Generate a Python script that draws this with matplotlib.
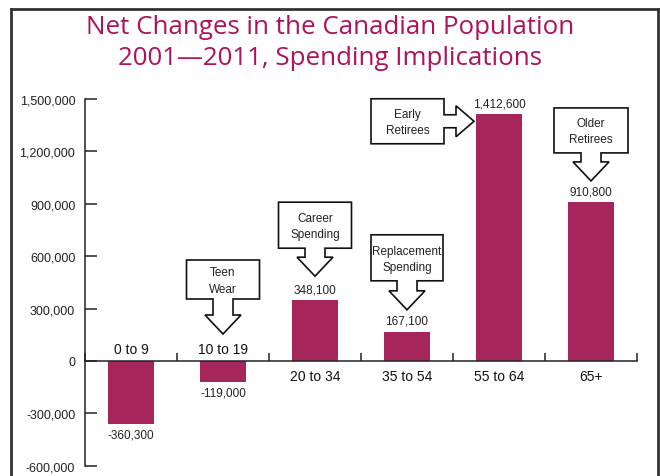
import matplotlib
matplotlib.use("Agg")
import matplotlib.pyplot as plt
from matplotlib.patches import Polygon
from matplotlib.lines import Line2D
from matplotlib.transforms import Affine2D, ScaledTranslation

categories = ["0 to 9", "10 to 19", "20 to 34", "35 to 54", "55 to 64", "65+"]
values = [-360300, -119000, 348100, 167100, 1412600, 910800]
yticks = [-600000, -300000, 0, 300000, 600000, 900000, 1200000, 1500000]
callout_texts = ["", "Teen\nWear", "Career\nSpending", "Replacement\nSpending", "Early\nRetirees", "Older\nRetirees"]

BAR = "#A6265C"
TITLE_C = "#AE1259"
FONT = "Liberation Sans"

fig = plt.figure(figsize=(6.6, 4.77), dpi=100)
W, H = 660, 477
ax = fig.add_axes([85 / W, 1 - 466.8 / H, 552 / W, 366.8 / H])

xs = [i + 0.5 for i in range(len(categories))]
ax.bar(xs, values, width=0.5, color=BAR, zorder=2)

ax.set_xlim(0, 6)
ax.set_ylim(-600000, 1500000)
ax.set_yticks(yticks)
ax.set_yticklabels([f"{v:,}" for v in yticks], fontsize=9, family=FONT, color="#222222")
ax.set_xticks(range(0, 7))
ax.set_xticklabels([])
ax.tick_params(axis="y", direction="in", length=8.6, width=1.1, pad=7, color="#222222")
ax.tick_params(axis="x", direction="in", length=5.8, width=1.1, color="#222222")
for s in ["top", "right"]:
    ax.spines[s].set_visible(False)
ax.spines["bottom"].set_position(("data", 0))
for s in ["left", "bottom"]:
    ax.spines[s].set_linewidth(1.1)
    ax.spines[s].set_color("#222222")
ax.patch.set_visible(False)

for x, v, c in zip(xs, values, categories):
    if v < 0:
        ax.annotate(c, (x, 0), xytext=(0, 8.6), textcoords="offset points",
                    ha="center", va="center", fontsize=10, family=FONT, color="#111111")
        ax.annotate(f"{v:,}", (x, v), xytext=(0, -7.4), textcoords="offset points",
                    ha="center", va="center", fontsize=8.5, family=FONT, color="#222222")
    else:
        ax.annotate(c, (x, 0), xytext=(0, -10.8), textcoords="offset points",
                    ha="center", va="center", fontsize=10, family=FONT, color="#111111")
        ax.annotate(f"{v:,}", (x, v), xytext=(0, 7.8), textcoords="offset points",
                    ha="center", va="center", fontsize=8.5, family=FONT, color="#222222")


def down_callout(x, y, dy, text, w, h, sl, sw=10, hw=18, hh=19):
    verts = [(0, 0), (hw, hh), (sw, hh), (sw, hh + sl), (w / 2, hh + sl),
             (w / 2, hh + sl + h), (-w / 2, hh + sl + h), (-w / 2, hh + sl),
             (-sw, hh + sl), (-sw, hh), (-hw, hh)]
    tr = Affine2D().translate(0, dy) + ScaledTranslation(x, y, ax.transData)
    p = Polygon(verts, closed=True, facecolor="white", edgecolor="#111111",
                linewidth=1.2, transform=tr, clip_on=False, zorder=3)
    ax.add_patch(p)
    ax.text(0, hh + sl + h / 2 - 1, text, transform=tr, ha="center", va="center",
            fontsize=8.5, family=FONT, color="#222222", linespacing=1.45, zorder=4)


def right_callout(x, y, dx, dy, text, w, h, sl, sw=6.5, hw=15.5, hh=18):
    verts = [(0, 0), (-hh, hw), (-hh, sw), (-hh - sl, sw), (-hh - sl, h / 2),
             (-hh - sl - w, h / 2), (-hh - sl - w, -h / 2), (-hh - sl, -h / 2),
             (-hh - sl, -sw), (-hh, -sw), (-hh, -hw)]
    tr = Affine2D().translate(dx, dy) + ScaledTranslation(x, y, ax.transData)
    p = Polygon(verts, closed=True, facecolor="white", edgecolor="#111111",
                linewidth=1.2, transform=tr, clip_on=False, zorder=3)
    ax.add_patch(p)
    ax.text(-hh - sl - w / 2, -1, text, transform=tr, ha="center", va="center",
            fontsize=8.5, family=FONT, color="#222222", linespacing=1.45, zorder=4)


down_callout(xs[1], max(values[1], 0), 27, callout_texts[1], 73, 39, 16)
down_callout(xs[2], values[2], 24, callout_texts[2], 73, 46, 9)
down_callout(xs[3], values[3], 22, callout_texts[3], 72, 46, 10)
right_callout(xs[4] - 0.25, values[4], -2, -7, callout_texts[4], 73, 45, 12)
down_callout(xs[5], values[5], 21, callout_texts[5], 74, 45, 9)

fig.text(0.5, 1 - 43 / H, "Net Changes in the Canadian Population\n2001\u20142011, Spending Implications",
         ha="center", va="center", fontsize=18.6, family="Open Sans", color=TITLE_C, linespacing=1.35)

# frame
fc = "#333333"
L, R, T = 11 / W, 658 / W, 1 - 9.5 / H
fig.add_artist(Line2D([L, L], [-0.05, T], transform=fig.transFigure, color=fc, lw=2))
fig.add_artist(Line2D([R, R], [-0.05, T], transform=fig.transFigure, color=fc, lw=2))
fig.add_artist(Line2D([L, R], [T, T], transform=fig.transFigure, color=fc, lw=2))

fig.savefig("out.png", dpi=100)
